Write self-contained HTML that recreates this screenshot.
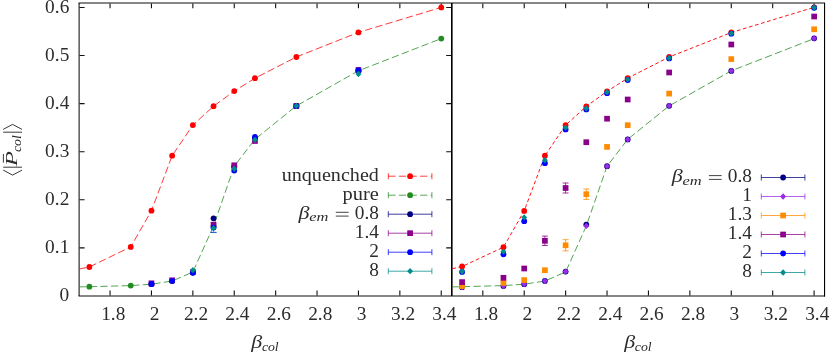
<!DOCTYPE html>
<html><head><meta charset="utf-8"><title>plot</title>
<style>html,body{margin:0;padding:0;background:#fff;}svg{display:block;will-change:transform;}text{font-family:"Liberation Serif",serif;fill:#2c2c2c;}</style>
</head><body>
<svg width="830" height="352" viewBox="0 0 830 352">
<rect x="0" y="0" width="830" height="352" fill="#ffffff"/>
<path d="M78.5 3H825M78.5 296H825" stroke="#000" stroke-width="1" fill="none" opacity="0.95"/>
<path d="M79.1 3V296" stroke="#000" stroke-width="1" fill="none"/>
<rect x="451.0" y="3" width="1.6" height="293" fill="#000"/>
<rect x="824.0" y="3" width="1.1" height="293.5" fill="#000"/>
<path d="M79.5 247.91H84.6M446.2 247.91H451M79.5 199.82H84.6M446.2 199.82H451M79.5 151.73H84.6M446.2 151.73H451M79.5 103.64H84.6M446.2 103.64H451M79.5 55.55H84.6M446.2 55.55H451M79.5 7.46H84.6M446.2 7.46H451M110.05 3.5V8.3M110.05 295.5V290.6M482.81 3.5V8.3M482.81 295.5V290.6M151.45 3.5V8.3M151.45 295.5V290.6M524.22 3.5V8.3M524.22 295.5V290.6M192.85 3.5V8.3M192.85 295.5V290.6M565.63 3.5V8.3M565.63 295.5V290.6M234.25 3.5V8.3M234.25 295.5V290.6M607.04 3.5V8.3M607.04 295.5V290.6M275.65 3.5V8.3M275.65 295.5V290.6M648.45 3.5V8.3M648.45 295.5V290.6M317.05 3.5V8.3M317.05 295.5V290.6M689.86 3.5V8.3M689.86 295.5V290.6M358.45 3.5V8.3M358.45 295.5V290.6M731.27 3.5V8.3M731.27 295.5V290.6M399.85 3.5V8.3M399.85 295.5V290.6M772.68 3.5V8.3M772.68 295.5V290.6M441.25 3.5V8.3M441.25 295.5V290.6M814.09 3.5V8.3M814.09 295.5V290.6" stroke="#111" stroke-width="1.1" fill="none"/>
<path d="M79.20 269.00L89.35 267.00L130.75 246.90L151.45 210.70L172.15 155.70L192.85 125.10L213.55 106.20L234.25 91.10L254.95 78.20L296.35 57.00L358.45 32.40L441.25 7.40" stroke="#ff0000" stroke-width="1" fill="none" stroke-dasharray="7.3 3.3" opacity="0.78"/>
<circle cx="89.35" cy="267.00" r="2.9" fill="#ff0000"/>
<circle cx="130.75" cy="246.90" r="2.9" fill="#ff0000"/>
<circle cx="151.45" cy="210.70" r="2.9" fill="#ff0000"/>
<circle cx="172.15" cy="155.70" r="2.9" fill="#ff0000"/>
<circle cx="192.85" cy="125.10" r="2.9" fill="#ff0000"/>
<circle cx="213.55" cy="106.20" r="2.9" fill="#ff0000"/>
<circle cx="234.25" cy="91.10" r="2.9" fill="#ff0000"/>
<circle cx="254.95" cy="78.20" r="2.9" fill="#ff0000"/>
<circle cx="296.35" cy="57.00" r="2.9" fill="#ff0000"/>
<circle cx="358.45" cy="32.40" r="2.9" fill="#ff0000"/>
<circle cx="441.25" cy="7.40" r="2.9" fill="#ff0000"/>
<path d="M79.20 286.90L89.35 286.70L130.75 285.60L151.45 284.20L172.15 281.00L192.85 272.00L213.55 226.00L234.25 166.20L254.95 139.30L296.35 105.90L358.45 70.80L441.25 38.60" stroke="#228b22" stroke-width="1" fill="none" stroke-dasharray="7.3 3.3" opacity="0.78"/>
<circle cx="89.35" cy="286.70" r="2.9" fill="#228b22"/>
<circle cx="130.75" cy="285.60" r="2.9" fill="#228b22"/>
<circle cx="151.45" cy="284.20" r="2.9" fill="#228b22"/>
<circle cx="172.15" cy="281.00" r="2.9" fill="#228b22"/>
<circle cx="192.85" cy="272.00" r="2.9" fill="#228b22"/>
<circle cx="213.55" cy="226.00" r="2.9" fill="#228b22"/>
<circle cx="234.25" cy="166.20" r="2.9" fill="#228b22"/>
<circle cx="254.95" cy="139.30" r="2.9" fill="#228b22"/>
<circle cx="296.35" cy="105.90" r="2.9" fill="#228b22"/>
<circle cx="358.45" cy="70.80" r="2.9" fill="#228b22"/>
<circle cx="441.25" cy="38.60" r="2.9" fill="#228b22"/>
<circle cx="151.45" cy="284.00" r="2.9" fill="#000080"/>
<circle cx="172.15" cy="280.80" r="2.9" fill="#000080"/>
<circle cx="192.85" cy="272.50" r="2.9" fill="#000080"/>
<circle cx="213.55" cy="218.30" r="2.9" fill="#000080"/>
<circle cx="234.25" cy="167.00" r="2.9" fill="#000080"/>
<circle cx="254.95" cy="138.50" r="2.9" fill="#000080"/>
<circle cx="296.35" cy="106.00" r="2.9" fill="#000080"/>
<circle cx="358.45" cy="70.50" r="2.9" fill="#000080"/>
<rect x="148.60" y="280.45" width="5.7" height="5.7" fill="#8b008b"/>
<rect x="169.30" y="277.45" width="5.7" height="5.7" fill="#8b008b"/>
<rect x="190.00" y="269.15" width="5.7" height="5.7" fill="#8b008b"/>
<rect x="210.70" y="221.85" width="5.7" height="5.7" fill="#8b008b"/>
<rect x="231.40" y="162.45" width="5.7" height="5.7" fill="#8b008b"/>
<rect x="252.10" y="138.15" width="5.7" height="5.7" fill="#8b008b"/>
<rect x="293.50" y="103.15" width="5.7" height="5.7" fill="#8b008b"/>
<rect x="355.60" y="67.15" width="5.7" height="5.7" fill="#8b008b"/>
<path d="M210.55 232.4H216.55" stroke="#0000ff" stroke-width="1" opacity="0.8"/>
<circle cx="151.45" cy="284.00" r="2.9" fill="#0000ff"/>
<circle cx="172.15" cy="280.80" r="2.9" fill="#0000ff"/>
<circle cx="192.85" cy="272.80" r="2.9" fill="#0000ff"/>
<circle cx="213.55" cy="227.60" r="2.9" fill="#0000ff"/>
<circle cx="234.25" cy="170.60" r="2.9" fill="#0000ff"/>
<circle cx="254.95" cy="136.90" r="2.9" fill="#0000ff"/>
<circle cx="296.35" cy="106.10" r="2.9" fill="#0000ff"/>
<circle cx="358.45" cy="70.30" r="2.9" fill="#0000ff"/>
<path d="M213.55 228V232.4M210.55 232.4H216.55" stroke="#008b8b" stroke-width="1" opacity="0.6"/>
<path d="M192.85 267.05L195.80 270.20L192.85 273.35L189.90 270.20Z" fill="#008b8b"/>
<path d="M213.55 225.05L216.50 228.20L213.55 231.35L210.60 228.20Z" fill="#008b8b"/>
<path d="M234.25 165.60L237.20 168.75L234.25 171.90L231.30 168.75Z" fill="#008b8b"/>
<path d="M254.95 136.65L257.90 139.80L254.95 142.95L252.00 139.80Z" fill="#008b8b"/>
<path d="M296.35 102.65L299.30 105.80L296.35 108.95L293.40 105.80Z" fill="#008b8b"/>
<path d="M358.45 70.85L361.40 74.00L358.45 77.15L355.50 74.00Z" fill="#008b8b"/>
<path d="M452.30 268.70L462.10 266.50L503.45 247.20L524.20 210.90L544.90 155.70L565.60 125.20L586.30 106.40L607.05 91.30L627.70 78.20L669.15 57.00L731.30 32.50L814.15 7.30" stroke="#ff0000" stroke-width="1" fill="none" stroke-dasharray="3.7 2.6" opacity="0.92"/>
<circle cx="462.10" cy="266.50" r="2.9" fill="#ff0000"/>
<circle cx="503.45" cy="247.20" r="2.9" fill="#ff0000"/>
<circle cx="524.20" cy="210.90" r="2.9" fill="#ff0000"/>
<circle cx="544.90" cy="155.70" r="2.9" fill="#ff0000"/>
<circle cx="565.60" cy="125.20" r="2.9" fill="#ff0000"/>
<circle cx="586.30" cy="106.40" r="2.9" fill="#ff0000"/>
<circle cx="607.05" cy="91.30" r="2.9" fill="#ff0000"/>
<circle cx="627.70" cy="78.20" r="2.9" fill="#ff0000"/>
<circle cx="669.15" cy="57.00" r="2.9" fill="#ff0000"/>
<circle cx="731.30" cy="32.50" r="2.9" fill="#ff0000"/>
<circle cx="814.15" cy="7.30" r="2.9" fill="#ff0000"/>
<path d="M452.30 286.90L462.10 286.70L503.45 285.60L524.20 284.20L544.90 281.00L565.60 272.00L586.30 226.00L607.05 166.20L627.70 139.30L669.15 105.90L731.30 70.80L814.15 38.60" stroke="#228b22" stroke-width="1" fill="none" stroke-dasharray="7.3 3.3" opacity="0.78"/>
<circle cx="462.10" cy="287.20" r="2.9" fill="#000080"/>
<circle cx="503.45" cy="286.10" r="2.9" fill="#000080"/>
<circle cx="524.20" cy="284.20" r="2.9" fill="#000080"/>
<circle cx="544.90" cy="280.90" r="2.9" fill="#000080"/>
<circle cx="565.60" cy="271.60" r="2.9" fill="#000080"/>
<circle cx="586.30" cy="224.60" r="2.9" fill="#000080"/>
<circle cx="607.05" cy="166.20" r="2.9" fill="#000080"/>
<circle cx="627.70" cy="139.40" r="2.9" fill="#000080"/>
<circle cx="669.15" cy="105.80" r="2.9" fill="#000080"/>
<circle cx="731.30" cy="70.90" r="2.9" fill="#000080"/>
<circle cx="814.15" cy="38.30" r="2.9" fill="#000080"/>
<path d="M462.10 284.05L465.05 287.20L462.10 290.35L459.15 287.20Z" fill="#9a2be8"/>
<path d="M503.45 282.95L506.40 286.10L503.45 289.25L500.50 286.10Z" fill="#9a2be8"/>
<path d="M524.20 281.05L527.15 284.20L524.20 287.35L521.25 284.20Z" fill="#9a2be8"/>
<path d="M544.90 277.75L547.85 280.90L544.90 284.05L541.95 280.90Z" fill="#9a2be8"/>
<path d="M565.60 268.45L568.55 271.60L565.60 274.75L562.65 271.60Z" fill="#9a2be8"/>
<path d="M586.30 222.75L589.25 225.90L586.30 229.05L583.35 225.90Z" fill="#9a2be8"/>
<path d="M607.05 163.05L610.00 166.20L607.05 169.35L604.10 166.20Z" fill="#9a2be8"/>
<path d="M627.70 136.25L630.65 139.40L627.70 142.55L624.75 139.40Z" fill="#9a2be8"/>
<path d="M669.15 102.65L672.10 105.80L669.15 108.95L666.20 105.80Z" fill="#9a2be8"/>
<path d="M731.30 67.75L734.25 70.90L731.30 74.05L728.35 70.90Z" fill="#9a2be8"/>
<path d="M814.15 35.15L817.10 38.30L814.15 41.45L811.20 38.30Z" fill="#9a2be8"/>
<path d="M565.60 239.70V250.90M562.60 239.70H568.60M562.60 250.90H568.60" stroke="#ff8c00" stroke-width="1" fill="none" opacity="0.8"/>
<path d="M586.30 189.00V199.40M583.30 189.00H589.30M583.30 199.40H589.30" stroke="#ff8c00" stroke-width="1" fill="none" opacity="0.8"/>
<rect x="459.25" y="283.25" width="5.7" height="5.7" fill="#ff8c00"/>
<rect x="500.60" y="280.05" width="5.7" height="5.7" fill="#ff8c00"/>
<rect x="521.35" y="277.25" width="5.7" height="5.7" fill="#ff8c00"/>
<rect x="542.05" y="267.35" width="5.7" height="5.7" fill="#ff8c00"/>
<rect x="562.75" y="242.45" width="5.7" height="5.7" fill="#ff8c00"/>
<rect x="583.45" y="191.35" width="5.7" height="5.7" fill="#ff8c00"/>
<rect x="604.20" y="144.05" width="5.7" height="5.7" fill="#ff8c00"/>
<rect x="624.85" y="122.35" width="5.7" height="5.7" fill="#ff8c00"/>
<rect x="666.30" y="90.75" width="5.7" height="5.7" fill="#ff8c00"/>
<rect x="728.45" y="56.25" width="5.7" height="5.7" fill="#ff8c00"/>
<rect x="811.30" y="26.45" width="5.7" height="5.7" fill="#ff8c00"/>
<path d="M544.90 236.10V245.50M541.90 236.10H547.90M541.90 245.50H547.90" stroke="#8b008b" stroke-width="1" fill="none" opacity="0.8"/>
<path d="M565.60 183.00V193.00M562.60 183.00H568.60M562.60 193.00H568.60" stroke="#8b008b" stroke-width="1" fill="none" opacity="0.8"/>
<rect x="459.25" y="279.25" width="5.7" height="5.7" fill="#8b008b"/>
<rect x="500.60" y="274.95" width="5.7" height="5.7" fill="#8b008b"/>
<rect x="521.35" y="265.65" width="5.7" height="5.7" fill="#8b008b"/>
<rect x="542.05" y="237.95" width="5.7" height="5.7" fill="#8b008b"/>
<rect x="562.75" y="185.15" width="5.7" height="5.7" fill="#8b008b"/>
<rect x="583.45" y="139.35" width="5.7" height="5.7" fill="#8b008b"/>
<rect x="604.20" y="115.85" width="5.7" height="5.7" fill="#8b008b"/>
<rect x="624.85" y="96.65" width="5.7" height="5.7" fill="#8b008b"/>
<rect x="666.30" y="69.65" width="5.7" height="5.7" fill="#8b008b"/>
<rect x="728.45" y="41.65" width="5.7" height="5.7" fill="#8b008b"/>
<rect x="811.30" y="13.65" width="5.7" height="5.7" fill="#8b008b"/>
<circle cx="462.10" cy="271.90" r="2.9" fill="#0000ff"/>
<circle cx="503.45" cy="254.30" r="2.9" fill="#0000ff"/>
<circle cx="524.20" cy="221.20" r="2.9" fill="#0000ff"/>
<circle cx="544.90" cy="163.20" r="2.9" fill="#0000ff"/>
<circle cx="565.60" cy="129.40" r="2.9" fill="#0000ff"/>
<circle cx="586.30" cy="109.40" r="2.9" fill="#0000ff"/>
<circle cx="607.05" cy="93.20" r="2.9" fill="#0000ff"/>
<circle cx="627.70" cy="80.00" r="2.9" fill="#0000ff"/>
<circle cx="669.15" cy="58.40" r="2.9" fill="#0000ff"/>
<circle cx="731.30" cy="33.70" r="2.9" fill="#0000ff"/>
<circle cx="814.15" cy="7.80" r="2.9" fill="#0000ff"/>
<path d="M462.10 268.35L465.05 271.50L462.10 274.65L459.15 271.50Z" fill="#008b8b"/>
<path d="M503.45 248.45L506.40 251.60L503.45 254.75L500.50 251.60Z" fill="#008b8b"/>
<path d="M524.20 214.25L527.15 217.40L524.20 220.55L521.25 217.40Z" fill="#008b8b"/>
<path d="M544.90 157.05L547.85 160.20L544.90 163.35L541.95 160.20Z" fill="#008b8b"/>
<path d="M565.60 124.55L568.55 127.70L565.60 130.85L562.65 127.70Z" fill="#008b8b"/>
<path d="M586.30 105.15L589.25 108.30L586.30 111.45L583.35 108.30Z" fill="#008b8b"/>
<path d="M607.05 89.05L610.00 92.20L607.05 95.35L604.10 92.20Z" fill="#008b8b"/>
<path d="M627.70 76.25L630.65 79.40L627.70 82.55L624.75 79.40Z" fill="#008b8b"/>
<path d="M669.15 54.85L672.10 58.00L669.15 61.15L666.20 58.00Z" fill="#008b8b"/>
<path d="M731.30 30.25L734.25 33.40L731.30 36.55L728.35 33.40Z" fill="#008b8b"/>
<path d="M814.15 4.45L817.10 7.60L814.15 10.75L811.20 7.60Z" fill="#008b8b"/>
<text x="69.3" y="301.30" text-anchor="end" font-size="18.5" textLength="9.67" lengthAdjust="spacingAndGlyphs">0</text>
<text x="69.3" y="253.21" text-anchor="end" font-size="18.5" textLength="24.17" lengthAdjust="spacingAndGlyphs">0.1</text>
<text x="69.3" y="205.12" text-anchor="end" font-size="18.5" textLength="24.17" lengthAdjust="spacingAndGlyphs">0.2</text>
<text x="69.3" y="157.03" text-anchor="end" font-size="18.5" textLength="24.17" lengthAdjust="spacingAndGlyphs">0.3</text>
<text x="69.3" y="108.94" text-anchor="end" font-size="18.5" textLength="24.17" lengthAdjust="spacingAndGlyphs">0.4</text>
<text x="69.3" y="60.85" text-anchor="end" font-size="18.5" textLength="24.17" lengthAdjust="spacingAndGlyphs">0.5</text>
<text x="69.3" y="12.76" text-anchor="end" font-size="18.5" textLength="24.17" lengthAdjust="spacingAndGlyphs">0.6</text>
<text x="113.25" y="319.6" text-anchor="middle" font-size="18.5" textLength="24.17" lengthAdjust="spacingAndGlyphs">1.8</text>
<text x="486.01" y="319.6" text-anchor="middle" font-size="18.5" textLength="24.17" lengthAdjust="spacingAndGlyphs">1.8</text>
<text x="154.65" y="319.6" text-anchor="middle" font-size="18.5" textLength="9.67" lengthAdjust="spacingAndGlyphs">2</text>
<text x="527.42" y="319.6" text-anchor="middle" font-size="18.5" textLength="9.67" lengthAdjust="spacingAndGlyphs">2</text>
<text x="196.05" y="319.6" text-anchor="middle" font-size="18.5" textLength="24.17" lengthAdjust="spacingAndGlyphs">2.2</text>
<text x="568.83" y="319.6" text-anchor="middle" font-size="18.5" textLength="24.17" lengthAdjust="spacingAndGlyphs">2.2</text>
<text x="237.45" y="319.6" text-anchor="middle" font-size="18.5" textLength="24.17" lengthAdjust="spacingAndGlyphs">2.4</text>
<text x="610.24" y="319.6" text-anchor="middle" font-size="18.5" textLength="24.17" lengthAdjust="spacingAndGlyphs">2.4</text>
<text x="278.85" y="319.6" text-anchor="middle" font-size="18.5" textLength="24.17" lengthAdjust="spacingAndGlyphs">2.6</text>
<text x="651.65" y="319.6" text-anchor="middle" font-size="18.5" textLength="24.17" lengthAdjust="spacingAndGlyphs">2.6</text>
<text x="320.25" y="319.6" text-anchor="middle" font-size="18.5" textLength="24.17" lengthAdjust="spacingAndGlyphs">2.8</text>
<text x="693.06" y="319.6" text-anchor="middle" font-size="18.5" textLength="24.17" lengthAdjust="spacingAndGlyphs">2.8</text>
<text x="361.65" y="319.6" text-anchor="middle" font-size="18.5" textLength="9.67" lengthAdjust="spacingAndGlyphs">3</text>
<text x="734.47" y="319.6" text-anchor="middle" font-size="18.5" textLength="9.67" lengthAdjust="spacingAndGlyphs">3</text>
<text x="403.05" y="319.6" text-anchor="middle" font-size="18.5" textLength="24.17" lengthAdjust="spacingAndGlyphs">3.2</text>
<text x="775.88" y="319.6" text-anchor="middle" font-size="18.5" textLength="24.17" lengthAdjust="spacingAndGlyphs">3.2</text>
<text x="444.45" y="319.6" text-anchor="middle" font-size="18.5" textLength="24.17" lengthAdjust="spacingAndGlyphs">3.4</text>
<text x="817.29" y="319.6" text-anchor="middle" font-size="18.5" textLength="24.17" lengthAdjust="spacingAndGlyphs">3.4</text>
<text x="251.2" y="347.6" text-anchor="start" font-size="18.5" font-style="italic" textLength="11.0" lengthAdjust="spacingAndGlyphs">β</text>
<text x="261.9" y="350.6" text-anchor="start" font-size="13.4" font-style="italic" textLength="16.8" lengthAdjust="spacingAndGlyphs">col</text>
<text x="624.28645" y="347.6" text-anchor="start" font-size="18.5" font-style="italic" textLength="11.0" lengthAdjust="spacingAndGlyphs">β</text>
<text x="634.8" y="350.6" text-anchor="start" font-size="13.4" font-style="italic" textLength="16.8" lengthAdjust="spacingAndGlyphs">col</text>
<g transform="translate(17.4,150.8) rotate(-90)">
<path d="M-19.3 -14.2L-24.3 -4.8L-19.3 4.6M-16.4 -14.2V4.6M18.6 -14.2V4.6M21.4 -14.2L26.4 -4.8L21.4 4.6" stroke="#222" stroke-width="0.9" fill="none"/>
<text x="-15.5" y="0" text-anchor="start" font-size="16.5" font-style="italic" textLength="15.2" lengthAdjust="spacingAndGlyphs">P</text>
<path d="M-11.8 -14.0H-3.2" stroke="#222" stroke-width="0.9"/>
<text x="-1.2" y="3.1" text-anchor="start" font-size="13.4" font-style="italic" textLength="16.8" lengthAdjust="spacingAndGlyphs">col</text>
</g>
<text x="281.7" y="180.60" text-anchor="start" font-size="18.5" textLength="97.2" lengthAdjust="spacingAndGlyphs">unquenched</text>
<path d="M388.30 176.20H431.90" stroke="#ff0000" stroke-width="1" fill="none" opacity="0.75" stroke-dasharray="7.3 3.3"/>
<path d="M388.30 173.20V179.20M431.90 173.20V179.20" stroke="#ff0000" stroke-width="1" fill="none" opacity="0.75"/>
<circle cx="410.10" cy="176.20" r="2.9" fill="#ff0000"/>
<text x="342.59999999999997" y="199.60" text-anchor="start" font-size="18.5" textLength="36.3" lengthAdjust="spacingAndGlyphs">pure</text>
<path d="M388.30 195.20H431.90" stroke="#228b22" stroke-width="1" fill="none" opacity="0.75" stroke-dasharray="7.3 3.3"/>
<path d="M388.30 192.20V198.20M431.90 192.20V198.20" stroke="#228b22" stroke-width="1" fill="none" opacity="0.75"/>
<circle cx="410.10" cy="195.20" r="2.9" fill="#228b22"/>
<text x="298.59999999999997" y="218.60" text-anchor="start" font-size="18.5" font-style="italic" textLength="11.0" lengthAdjust="spacingAndGlyphs">β</text>
<text x="309.29999999999995" y="221.40" text-anchor="start" font-size="13.4" font-style="italic" textLength="19.2" lengthAdjust="spacingAndGlyphs">em</text>
<path d="M335.80 212.30H348.60M335.80 216.10H348.60" stroke="#222" stroke-width="0.85" fill="none"/>
<text x="378.9" y="218.60" text-anchor="end" font-size="18.5" textLength="24.17" lengthAdjust="spacingAndGlyphs">0.8</text>
<path d="M388.30 214.20H431.90" stroke="#000080" stroke-width="1" fill="none" opacity="0.75"/>
<path d="M388.30 211.20V217.20M431.90 211.20V217.20" stroke="#000080" stroke-width="1" fill="none" opacity="0.75"/>
<circle cx="410.10" cy="214.20" r="2.9" fill="#000080"/>
<text x="378.9" y="237.60" text-anchor="end" font-size="18.5" textLength="24.17" lengthAdjust="spacingAndGlyphs">1.4</text>
<path d="M388.30 233.20H431.90" stroke="#8b008b" stroke-width="1" fill="none" opacity="0.75"/>
<path d="M388.30 230.20V236.20M431.90 230.20V236.20" stroke="#8b008b" stroke-width="1" fill="none" opacity="0.75"/>
<rect x="407.25" y="230.35" width="5.7" height="5.7" fill="#8b008b"/>
<text x="378.9" y="256.60" text-anchor="end" font-size="18.5" textLength="9.67" lengthAdjust="spacingAndGlyphs">2</text>
<path d="M388.30 252.20H431.90" stroke="#0000ff" stroke-width="1" fill="none" opacity="0.75"/>
<path d="M388.30 249.20V255.20M431.90 249.20V255.20" stroke="#0000ff" stroke-width="1" fill="none" opacity="0.75"/>
<circle cx="410.10" cy="252.20" r="2.9" fill="#0000ff"/>
<text x="378.9" y="275.60" text-anchor="end" font-size="18.5" textLength="9.67" lengthAdjust="spacingAndGlyphs">8</text>
<path d="M388.30 271.20H431.90" stroke="#008b8b" stroke-width="1" fill="none" opacity="0.75"/>
<path d="M388.30 268.20V274.20M431.90 268.20V274.20" stroke="#008b8b" stroke-width="1" fill="none" opacity="0.75"/>
<path d="M410.10 268.05L413.05 271.20L410.10 274.35L407.15 271.20Z" fill="#008b8b"/>
<text x="671.7" y="181.90" text-anchor="start" font-size="18.5" font-style="italic" textLength="11.0" lengthAdjust="spacingAndGlyphs">β</text>
<text x="682.4" y="184.70" text-anchor="start" font-size="13.4" font-style="italic" textLength="19.2" lengthAdjust="spacingAndGlyphs">em</text>
<path d="M708.90 175.60H721.70M708.90 179.40H721.70" stroke="#222" stroke-width="0.85" fill="none"/>
<text x="752.0" y="181.90" text-anchor="end" font-size="18.5" textLength="24.17" lengthAdjust="spacingAndGlyphs">0.8</text>
<path d="M761.30 177.50H804.90" stroke="#000080" stroke-width="1" fill="none" opacity="0.75"/>
<path d="M761.30 174.50V180.50M804.90 174.50V180.50" stroke="#000080" stroke-width="1" fill="none" opacity="0.75"/>
<circle cx="783.10" cy="177.50" r="2.9" fill="#000080"/>
<text x="752.0" y="200.90" text-anchor="end" font-size="18.5" textLength="9.67" lengthAdjust="spacingAndGlyphs">1</text>
<path d="M761.30 196.50H804.90" stroke="#9a2be8" stroke-width="1" fill="none" opacity="0.75"/>
<path d="M761.30 193.50V199.50M804.90 193.50V199.50" stroke="#9a2be8" stroke-width="1" fill="none" opacity="0.75"/>
<path d="M783.10 193.35L786.05 196.50L783.10 199.65L780.15 196.50Z" fill="#9a2be8"/>
<text x="752.0" y="219.90" text-anchor="end" font-size="18.5" textLength="24.17" lengthAdjust="spacingAndGlyphs">1.3</text>
<path d="M761.30 215.50H804.90" stroke="#ff8c00" stroke-width="1" fill="none" opacity="0.75"/>
<path d="M761.30 212.50V218.50M804.90 212.50V218.50" stroke="#ff8c00" stroke-width="1" fill="none" opacity="0.75"/>
<rect x="780.25" y="212.65" width="5.7" height="5.7" fill="#ff8c00"/>
<text x="752.0" y="238.90" text-anchor="end" font-size="18.5" textLength="24.17" lengthAdjust="spacingAndGlyphs">1.4</text>
<path d="M761.30 234.50H804.90" stroke="#8b008b" stroke-width="1" fill="none" opacity="0.75"/>
<path d="M761.30 231.50V237.50M804.90 231.50V237.50" stroke="#8b008b" stroke-width="1" fill="none" opacity="0.75"/>
<rect x="780.25" y="231.65" width="5.7" height="5.7" fill="#8b008b"/>
<text x="752.0" y="257.90" text-anchor="end" font-size="18.5" textLength="9.67" lengthAdjust="spacingAndGlyphs">2</text>
<path d="M761.30 253.50H804.90" stroke="#0000ff" stroke-width="1" fill="none" opacity="0.75"/>
<path d="M761.30 250.50V256.50M804.90 250.50V256.50" stroke="#0000ff" stroke-width="1" fill="none" opacity="0.75"/>
<circle cx="783.10" cy="253.50" r="2.9" fill="#0000ff"/>
<text x="752.0" y="276.90" text-anchor="end" font-size="18.5" textLength="9.67" lengthAdjust="spacingAndGlyphs">8</text>
<path d="M761.30 272.50H804.90" stroke="#008b8b" stroke-width="1" fill="none" opacity="0.75"/>
<path d="M761.30 269.50V275.50M804.90 269.50V275.50" stroke="#008b8b" stroke-width="1" fill="none" opacity="0.75"/>
<path d="M783.10 269.35L786.05 272.50L783.10 275.65L780.15 272.50Z" fill="#008b8b"/>
</svg></body></html>
